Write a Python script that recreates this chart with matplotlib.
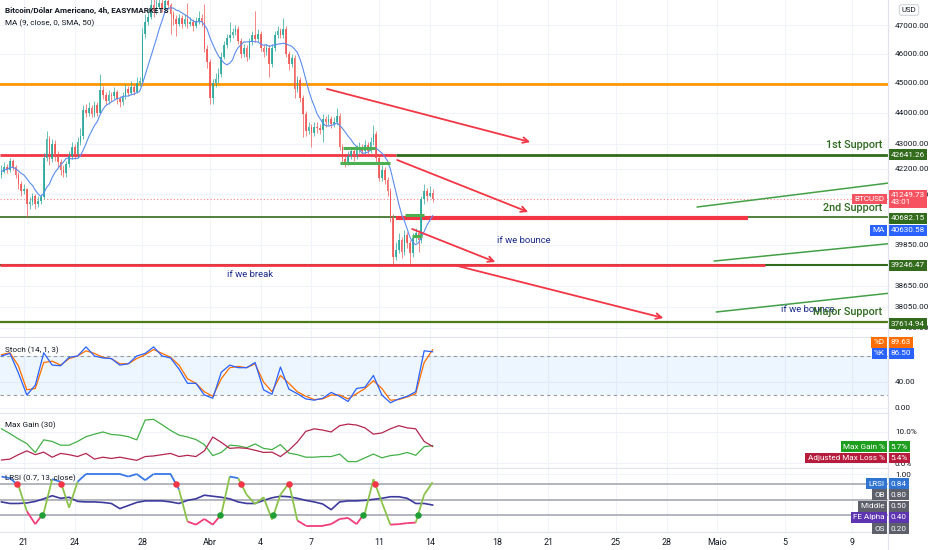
import matplotlib
matplotlib.use('Agg')
import matplotlib.pyplot as plt
import matplotlib.dates as mdates
import matplotlib.transforms as mtrans
from matplotlib.collections import LineCollection
from matplotlib.lines import Line2D
from matplotlib.ticker import FixedLocator, NullLocator, NullFormatter
import numpy as np
import pandas as pd

plt.rcParams['font.family'] = ['Roboto', 'DejaVu Sans']

# ---- data ----
first_open = 42000
close = [42100, 42250, 42150, 42450, 42250, 42000, 41700, 41500, 41550, 41100,
         41150, 41350, 41100, 41200, 41300, 42550, 43150, 42500, 43000, 42600,
         42400, 42150, 42050, 42350, 42600, 42900, 42650, 43050, 43250, 44100,
         44000, 44150, 43950, 44250, 44000, 44750, 44600, 44400, 44600, 44550,
         44700, 44450, 44350, 44550, 44800, 44650, 44850, 44700, 45000, 45050,
         46700, 47100, 47300, 47700, 47500, 47650, 47800, 47600, 47850, 47700,
         47400, 47200, 47050, 47250, 47050, 47200, 47050, 47100, 46950, 47150,
         47250, 47100, 46150, 45700, 44500, 45000, 45150, 45300, 45900, 46300,
         46550, 46650, 46750, 46850, 46450, 46000, 46200, 45900, 46400, 46650,
         46500, 46700, 46200, 46050, 46200, 45650, 46200, 46650, 46800, 46650,
         46850, 46000, 45650, 45850, 44800, 45100, 44500, 43950, 43400, 43550,
         43350, 43550, 43500, 43450, 43800, 43700, 43800, 43650, 43700, 43900,
         42900, 42500, 42400, 42600, 42750, 42600, 42800, 42900, 42750, 42950,
         42750, 43050, 43300, 42530, 41900, 42150, 41850, 41500, 40700, 39500,
         39700, 40000, 39650, 40150, 39900, 39600, 40050, 40200, 40000, 41250,
         41500, 41350, 41450, 41250]
high = [42300, 42400, 42350, 42550, 42500, 42300, 42100, 41800, 41700, 41600,
        41300, 41450, 41400, 41350, 41400, 42700, 43400, 43250, 43150, 43100,
        42750, 42500, 42300, 42450, 42750, 43050, 43000, 43200, 43500, 44250,
        44300, 44350, 44250, 44400, 44350, 45300, 44900, 44700, 44750, 44700,
        44850, 44750, 44550, 44700, 44950, 44900, 45050, 44950, 45200, 45200,
        46900, 47400, 47550, 47950, 48000, 48100, 48100, 47950, 48050, 48200,
        47800, 47500, 47350, 47400, 47350, 47400, 47800, 47300, 47200, 47300,
        47500, 47400, 47750, 46300, 45800, 45150, 45350, 45500, 46050, 46450,
        46700, 47100, 46900, 47000, 46950, 46550, 46350, 46300, 46550, 46800,
        47500, 46850, 46800, 46350, 46350, 46300, 46350, 46800, 46950, 46900,
        47250, 46950, 46100, 46000, 45950, 45250, 45200, 44600, 44050, 43700,
        43650, 43700, 43700, 43650, 43950, 43900, 43950, 43900, 43850, 44150,
        44000, 43000, 42600, 42750, 42900, 42850, 42950, 43050, 43000, 43100,
        43050, 43200, 43600, 43400, 42650, 42300, 42250, 41950, 41600, 40800,
        39950, 40200, 40100, 40300, 40250, 40000, 40200, 40350, 40300, 41350,
        41700, 41600, 41650, 41550]
low = [41900, 42050, 42050, 42100, 42150, 41900, 41550, 41350, 41400, 40700,
       40950, 41050, 40950, 41000, 41100, 41250, 42450, 42300, 42400, 42450,
       42250, 42000, 41950, 41950, 42250, 42500, 42500, 42550, 42950, 43150,
       43850, 43900, 43850, 43850, 43900, 43950, 44450, 44250, 44300, 44400,
       44450, 44300, 44200, 44250, 44450, 44550, 44600, 44600, 44650, 44900,
       45000, 46550, 47000, 47200, 47300, 47400, 47550, 47450, 47500, 47550,
       46700, 47000, 46600, 46950, 46900, 46950, 46900, 46950, 46800, 46900,
       47050, 46950, 46050, 45500, 44300, 44300, 44850, 45000, 45200, 45800,
       46200, 46400, 46550, 46650, 46350, 45850, 45900, 45750, 45800, 46300,
       46400, 46400, 46100, 45900, 45950, 45200, 45550, 46100, 46550, 46550,
       46550, 45900, 45450, 45550, 44500, 44700, 44350, 43200, 43250, 43300,
       42900, 43250, 43350, 43300, 43050, 43550, 43600, 43500, 43550, 43600,
       42800, 42350, 42250, 42300, 42500, 42450, 42500, 42700, 42650, 42650,
       42650, 42700, 42950, 42400, 41800, 41800, 41700, 41350, 40550, 39300,
       39400, 39600, 39450, 39550, 39750, 39300, 39500, 39950, 39650, 39900,
       41100, 41200, 41300, 41150]

# indicator values, read every third candle
stoch_k = [80, 84, 54, 20, 35, 85, 66, 65, 78, 80,
           94, 80, 77, 76, 66, 68, 80, 84, 94, 80,
           77, 60, 38, 38, 20, 15, 55, 66, 62, 62,
           70, 28, 21, 63, 29, 22, 14, 12, 15, 24,
           18, 10, 30, 32, 50, 20, 8, 14, 18, 25,
           88, 86.5]
stoch_d = [82, 85, 65, 28, 30, 70, 72, 66, 76, 80,
           88, 84, 78, 76, 68, 68, 76, 82, 90, 84,
           78, 66, 45, 38, 25, 18, 45, 62, 64, 62,
           68, 40, 25, 50, 38, 25, 18, 13, 14, 20,
           20, 14, 22, 30, 42, 30, 12, 13, 17, 22,
           70, 89.63]
max_gain = [11.0, 9.5, 7.8, 6.3, 3.5, 7.5, 7.0, 5.8, 5.8, 7.0,
            8.5, 9.3, 10.0, 9.2, 9.0, 8.5, 7.5, 13.8, 14.0, 12.3,
            10.5, 9.0, 8.4, 7.6, 6.0, 2.5, 3.5, 5.8, 5.6, 5.0,
            6.2, 4.8, 4.4, 6.0, 3.3, 2.8, 2.0, 2.0, 2.2, 2.2,
            3.0, 0.6, 0.6, 1.8, 3.0, 1.8, 2.5, 2.8, 3.5, 2.6,
            5.3, 5.7]
max_loss = [1.1, 1.4, 2.8, 4.0, 2.8, 3.6, 2.0, 3.2, 2.8, 2.2,
            3.2, 1.4, 2.0, 1.6, 2.0, 1.5, 1.0, 2.2, 2.4, 2.8,
            3.2, 2.2, 2.6, 2.2, 4.0, 8.4, 6.7, 4.8, 5.0, 4.8,
            4.2, 3.5, 3.6, 2.2, 4.2, 6.8, 10.2, 11.0, 10.6, 10.0,
            12.0, 12.5, 12.2, 11.3, 9.3, 9.7, 11.0, 12.0, 11.3, 11.0,
            7.0, 5.4]
lrsi = [0.95, 0.92, 0.78, 0.28, 0.03, 0.25, 0.9, 0.85, 0.35, 0.85,
        1.0, 1.0, 1.0, 1.0, 1.0, 0.95, 1.0, 0.88, 1.0, 1.0,
        1.0, 0.7, 0.08, 0.02, 0.13, 0.02, 0.22, 0.95, 0.92, 0.6,
        0.42, 0.55, 0.12, 0.6, 0.82, 0.1, 0.0, 0.0, 0.0, 0.03,
        0.13, 0.15, 0.03, 0.25, 0.9, 0.45, 0.02, 0.03, 0.05, 0.06,
        0.6, 0.84]
fe_alpha = [0.46, 0.43, 0.43, 0.44, 0.47, 0.52, 0.58, 0.53, 0.55, 0.47,
            0.46, 0.46, 0.45, 0.43, 0.33, 0.39, 0.45, 0.48, 0.48, 0.48,
            0.46, 0.43, 0.49, 0.52, 0.59, 0.57, 0.55, 0.52, 0.46, 0.43,
            0.43, 0.49, 0.54, 0.57, 0.56, 0.53, 0.49, 0.46, 0.42, 0.31,
            0.46, 0.48, 0.48, 0.49, 0.51, 0.53, 0.56, 0.56, 0.53, 0.43,
            0.43, 0.40]

price_ticks = [37450, 38050, 38650, 39850, 41400, 42200, 43000, 44000, 45000, 46000, 47000]
tick_dates = ['2022-03-21', '2022-03-24', '2022-03-28', '2022-04-01', '2022-04-04', '2022-04-07',
              '2022-04-11', '2022-04-14', '2022-04-18', '2022-04-21', '2022-04-25', '2022-04-28',
              '2022-05-01', '2022-05-05', '2022-05-09']
tick_labels = ['21', '24', '28', 'Abr', '4', '7', '11', '14', '18', '21', '25', '28', 'Maio', '5', '9']

support1 = 42641.26
support2 = 40682.15
support3 = 39246.47
major = 37614.94
resist = 44950
last_price = 41249.73
ma_last = 40630.58

# ---- figure ----
W, H = 932, 550
fig = plt.figure(figsize=(W / 100, H / 100), dpi=100)
fig.patch.set_facecolor('white')
AXR = 888
GRID = '#f0f3fa'
TXT = '#131722'
SEP = '#e0e3eb'
FS = 5.9


def pane(top, bottom):
    a = fig.add_axes([0, 1 - bottom / H, AXR / W, (bottom - top) / H])
    for s in a.spines.values():
        s.set_visible(False)
    a.spines['bottom'].set_visible(True)
    a.spines['bottom'].set_color(SEP)
    a.spines['right'].set_visible(True)
    a.spines['right'].set_color(SEP)
    a.yaxis.tick_right()
    a.tick_params(axis='y', length=0, pad=5, labelsize=FS, colors=TXT)
    a.tick_params(axis='x', length=0, labelbottom=False)
    return a


def d(s):
    return mdates.date2num(pd.Timestamp(s))


times = pd.date_range('2022-03-19 16:00', periods=len(close), freq='4h')
x = mdates.date2num(times)
xs = x[::3]
x0, x1 = d('2022-03-21') - 1.42, d('2022-03-21') + 51.1

ax = pane(0, 337)
ax2 = pane(338, 413)
ax3 = pane(414, 468)
ax4 = pane(469, 532)
for a in (ax, ax2, ax3, ax4):
    a.set_xlim(x0, x1)
    a.xaxis.set_major_locator(FixedLocator([d(t) for t in tick_dates]))
    a.grid(True, color=GRID, lw=0.8)
    a.set_axisbelow(True)

# ---- price pane ----
ax.set_yscale('log')
ax.set_ylim(37192, 47890)
ax.yaxis.set_major_locator(FixedLocator(price_ticks))
ax.yaxis.set_minor_locator(NullLocator())
ax.yaxis.set_minor_formatter(NullFormatter())
ax.set_yticklabels(['%.2f' % v for v in price_ticks])

close = np.array(close, float)
opn = np.r_[first_open, close[:-1]]
col = np.where(close >= opn, '#26a69a', '#ef5350')
ax.vlines(x, low, high, colors=col, lw=0.7, alpha=0.7, zorder=3)
ax.bar(x, close - opn, bottom=opn, width=0.6 / 6, color=col, alpha=0.85, zorder=3)
ma = pd.Series(close).rolling(9, min_periods=1).mean()
ax.plot(x, ma, color='#5b8cf0', lw=0.8, zorder=4)

RED = '#f23645'
DGREEN = '#336b1c'
ax.axhline(resist, color='#ff9800', lw=2, zorder=2)
ax.hlines(support1, x0, d('2022-04-12 00:00'), color=RED, lw=2, zorder=2)
ax.hlines(support1, d('2022-04-12 00:00'), x1, color=DGREEN, lw=2, zorder=2)
ax.axhline(support2, color=DGREEN, lw=1.2, zorder=2)
ax.hlines(40650, d('2022-04-12 00:00'), d('2022-05-02 20:00'), color=RED, lw=3, zorder=2)
ax.axhline(support3, color=DGREEN, lw=1.5, zorder=2)
ax.hlines(support3, x0, d('2022-05-03 20:00'), color=RED, lw=2, zorder=2)
ax.axhline(major, color='#4e7a1a', lw=1.6, zorder=2)
ax.axhline(last_price, color=RED, lw=0.8, ls=(0, (1, 2)), alpha=0.6, zorder=2)

LG = '#4caf50'
ax.hlines(42856, d('2022-04-08 21:00'), d('2022-04-10 18:30'), color=LG, lw=2.2, zorder=5)
ax.hlines(42380, d('2022-04-08 17:00'), d('2022-04-11 16:00'), color=LG, lw=2.2, zorder=5)
ax.hlines(40760, d('2022-04-12 13:00'), d('2022-04-13 16:00'), color=LG, lw=2.2, zorder=5)
ax.hlines(40120, d('2022-04-12 23:00'), d('2022-04-13 13:00'), color=LG, lw=2.2, zorder=5)

arrows = [(('2022-04-07 22:00', 44800), ('2022-04-19 22:30', 43050)),
          (('2022-04-12 01:40', 42474), ('2022-04-19 19:40', 40848)),
          (('2022-04-12 23:00', 40331), ('2022-04-17 21:00', 39345)),
          (('2022-04-15 12:00', 39246), ('2022-04-27 19:30', 37727))]
for (sa, pa), (sb, pb) in arrows:
    ax.annotate('', xy=(d(sb), pb), xytext=(d(sa), pa),
                arrowprops=dict(arrowstyle='->', color=RED, lw=1.3, mutation_scale=10,
                                shrinkA=0, shrinkB=0), zorder=5)

rising = [(('2022-04-29 19:40', 41002), ('2022-05-11 03:00', 41745)),
          (('2022-04-30 20:00', 39373), ('2022-05-11 03:00', 39889)),
          (('2022-04-30 23:00', 37897), ('2022-05-11 03:00', 38432))]
for (sa, pa), (sb, pb) in rising:
    ax.plot([d(sa), d(sb)], [pa, pb], color='#43a047', lw=1.1, zorder=5)

SG = '#2f6b1f'
for lbl, p in [('1st Support', 42955), ('2nd Support', 40970), ('Major Support', 37897)]:
    ax.text(d('2022-05-10 18:30'), p, lbl, color=SG, fontsize=7.8, fontweight='medium',
            ha='right', va='center', zorder=6)
NAVY = '#1a2a8a'
ax.text(d('2022-04-03 09:00'), 38985, 'if we break', color=NAVY, fontsize=6.8, ha='center', va='center')
ax.text(d('2022-04-19 14:00'), 39970, 'if we bounce', color=NAVY, fontsize=6.8, ha='center', va='center')
ax.text(d('2022-05-06 09:00'), 37960, 'if we bounce', color=NAVY, fontsize=6.8, ha='center', va='center',
        zorder=5)

fig.text(5 / W, 1 - 10 / H, 'Bitcoin/Dólar Americano, 4h, EASYMARKETS', fontsize=FS,
         fontweight='bold', color=TXT, va='center')
fig.text(5 / W, 1 - 23 / H, 'MA (9, close, 0, SMA, 50)', fontsize=FS, color=TXT, va='center')


def vbox(a, y, s, fc, fs=FS):
    tr = mtrans.blended_transform_factory(a.transAxes, a.transData)
    a.text(1.003, y, s, transform=tr, ha='left', va='center', color='white', fontsize=fs,
           bbox=dict(boxstyle='square,pad=0.3', fc=fc, ec='none'), clip_on=False, zorder=10)


def lbox(a, y, s, fc, fs=FS):
    tr = mtrans.blended_transform_factory(a.transAxes, a.transData)
    a.text(0.9965, y, s, transform=tr, ha='right', va='center', color='white', fontsize=fs,
           bbox=dict(boxstyle='square,pad=0.3', fc=fc, ec='none'), clip_on=False, zorder=10)


vbox(ax, support1, '%.2f' % support1, DGREEN)
vbox(ax, last_price, '%.2f\n43:01' % last_price, '#f7525f')
lbox(ax, last_price, 'BTCUSD', '#f7525f')
vbox(ax, 40650, '%.2f' % support2, DGREEN)
vbox(ax, 40290, '%.2f' % ma_last, '#2962ff')
lbox(ax, 40290, 'MA', '#2962ff')
vbox(ax, support3, '%.2f' % support3, DGREEN)
vbox(ax, 37560, '%.2f' % major, DGREEN)
fig.text(909 / W, 1 - 10 / H, 'USD', fontsize=5.6, color=TXT, ha='center', va='center',
         bbox=dict(boxstyle='round,pad=0.3', fc='white', ec='#d1d4dc', lw=0.8))

# ---- stochastic pane ----
ax2.set_ylim(-7.7, 107.7)
ax2.yaxis.set_major_locator(FixedLocator([0, 40, 80]))
ax2.set_yticklabels(['0.00', '40.00', '80.00'])
ax2.axhspan(20, 80, color='#2196f3', alpha=0.08, lw=0)
for lvl in (20, 80):
    ax2.axhline(lvl, color='#9598a1', lw=0.8, ls=(0, (3, 3)))
ax2.plot(xs, stoch_d, color='#ff6d00', lw=0.9)
ax2.plot(xs, stoch_k, color='#2962ff', lw=0.9)
ax2.text(0.006, 0.84, 'Stoch (14, 1, 3)', transform=ax2.transAxes, fontsize=FS, color=TXT, va='center')
vbox(ax2, 101, '%.2f' % stoch_d[-1], '#ff6d00')
lbox(ax2, 101, '%D', '#ff6d00')
vbox(ax2, 84, '%.2f' % stoch_k[-1], '#2962ff')
lbox(ax2, 84, '%K', '#2962ff')

# ---- max gain pane ----
ax3.set_ylim(-1.43, 15.7)
ax3.yaxis.set_major_locator(FixedLocator([0, 10]))
ax3.set_yticklabels(['0.0%', '10.0%'])
ax3.plot(xs, max_gain, color='#43b047', lw=0.9)
ax3.plot(xs, max_loss, color='#b5254f', lw=0.9)
ax3.text(0.006, 0.8, 'Max Gain (30)', transform=ax3.transAxes, fontsize=FS, color=TXT, va='center')
vbox(ax3, 5.3, '%.1f%%' % max_gain[-1], '#1e9e1e')
lbox(ax3, 5.3, 'Max Gain %', '#1e9e1e')
vbox(ax3, 1.75, '%.1f%%' % max_loss[-1], '#b71c3c')
lbox(ax3, 1.75, 'Adjusted Max Loss %', '#b71c3c')

# ---- LRSI pane ----
ax4.set_ylim(-0.122, 1.097)
ax4.yaxis.set_major_locator(FixedLocator([1.0]))
ax4.set_yticklabels(['1.00'])
for lvl in (0.8, 0.5, 0.2):
    ax4.axhline(lvl, color='#b2b5be', lw=1.4)
ax4.plot(xs, fe_alpha, color='#3d3a9e', lw=1.2)
lr = np.array(lrsi)
pts = np.column_stack([xs, lr])
segs = np.stack([pts[:-1], pts[1:]], axis=1)
mid = (lr[:-1] + lr[1:]) / 2
seg_col = np.where(mid > 0.8, '#3b78e7', np.where(mid < 0.2, '#f23d7a', '#8bc34a'))
ax4.add_collection(LineCollection(segs, colors=seg_col, lw=1.3, zorder=3))
for lvl, c, cond in [(0.8, '#f23645', (lr[:-1] >= 0.8) & (lr[1:] < 0.8)),
                     (0.2, '#1f9e35', (lr[:-1] <= 0.2) & (lr[1:] > 0.2))]:
    k = np.where(cond)[0]
    xc = xs[k] + (lvl - lr[k]) / (lr[k + 1] - lr[k]) * (xs[k + 1] - xs[k])
    ax4.scatter(xc, np.full(len(k), lvl), s=22, color=c, zorder=4, lw=0)
ax4.text(0.006, 0.86, 'LRSI (0.7, 13, close)', transform=ax4.transAxes, fontsize=FS, color=TXT,
         va='center')
vbox(ax4, 0.81, '%.2f' % lrsi[-1], '#2f74d0')
lbox(ax4, 0.81, 'LRSI', '#2f74d0')
vbox(ax4, 0.595, '0.80', '#5d606b')
lbox(ax4, 0.595, 'OB', '#5d606b')
vbox(ax4, 0.375, '0.50', '#5d606b')
lbox(ax4, 0.375, 'Middle', '#5d606b')
vbox(ax4, 0.16, '%.2f' % fe_alpha[-1], '#5e35b1')
lbox(ax4, 0.16, 'FE Alpha', '#5e35b1')
vbox(ax4, -0.055, '0.20', '#5d606b')
lbox(ax4, -0.055, 'OS', '#5d606b')

ax4.tick_params(axis='x', labelbottom=True, labelsize=6.4, colors=TXT, pad=4)
ax4.set_xticklabels(tick_labels)

fig.add_artist(Line2D([AXR / W, AXR / W], [0, 1], transform=fig.transFigure, color=SEP, lw=0.8))

fig.savefig('out.png', dpi=100, facecolor='white')
